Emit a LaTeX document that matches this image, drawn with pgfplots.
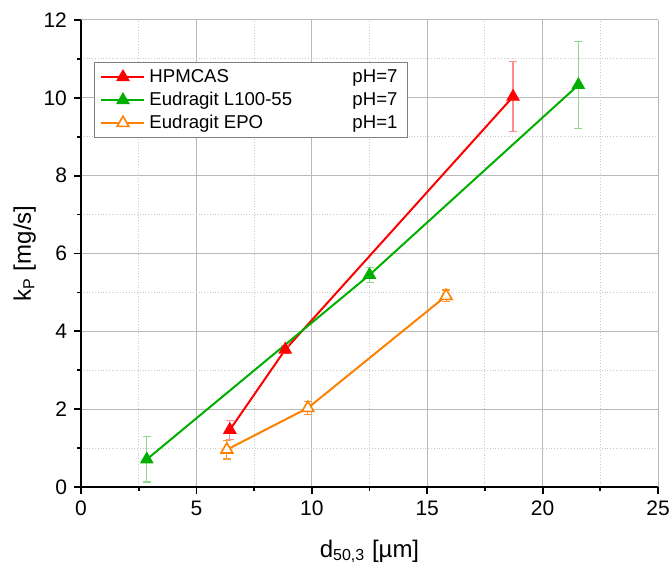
\documentclass[border=0pt]{standalone}
\usepackage{fontspec}
\setmainfont{Liberation Sans}
\usepackage{pgfplots}
\pgfplotsset{compat=1.18}

\definecolor{cred}{RGB}{255,0,0}
\definecolor{cgreen}{RGB}{0,175,0}
\definecolor{corange}{RGB}{255,128,0}
\definecolor{gridmaj}{RGB}{185,185,185}
\definecolor{gridmin}{RGB}{200,200,200}

\begin{document}
\begin{tikzpicture}
\begin{axis}[
  name=ax,
  scale only axis,
  width=288.5pt, height=233.5pt,
  xmin=0, xmax=25, ymin=0, ymax=12,
  xtick={0,5,...,25}, ytick={0,2,...,12},
  minor x tick num=1, minor y tick num=1,
  axis x line*=bottom, axis y line*=left,
  axis line style={-, line width=0.9pt},
  tick align=outside,
  major tick length=3.5pt, minor tick length=2pt,
  every tick/.style={black, line width=0.9pt},
  grid=both,
  major grid style={gridmaj, line width=0.5pt},
  minor grid style={gridmin, densely dotted, line width=0.5pt},
  /pgf/number format/assume math mode=true,
  tick label style={font=\fontsize{10.5}{12}\selectfont},
  label style={font=\fontsize{12}{14}\selectfont},
  xlabel={d\textsubscript{50,3} [µm]},
  ylabel={k\textsubscript{P} [mg/s]},
  xlabel style={yshift=-5pt},
  ylabel style={yshift=-3pt},
  legend cell align=left,
  legend style={at={(rel axis cs:0.0225,0.91)}, anchor=north west,
    draw=gray, fill=white, line width=0.5pt,
    font=\fontsize{9.3}{11}\selectfont,
    row sep=0pt, inner xsep=3pt, inner ysep=1.5pt,
    nodes={text height=7pt, text depth=2pt, inner ysep=1.25pt}},
  legend image code/.code={
    \draw[mark repeat=2, mark phase=2, line width=1pt]
      plot coordinates {(0pt,0pt) (10.75pt,0pt) (21.5pt,0pt)};},
]
\addplot+[cred, line width=1pt, mark=triangle*, mark size=3.4pt,
  mark options={solid, fill=cred, line width=0.6pt},
  error bars/.cd, y dir=both, y explicit,
  error bar style={color=cred!45, line width=0.6pt},
  error mark options={rotate=90, mark size=2pt, color=cred!45, line width=0.6pt}]
  coordinates {
  (6.45,1.47) +- (0,0.24)
  (8.85,3.53) +- (0,0.10)
  (18.72,10.03) +- (0,0.90)
};
\addlegendentry{\makebox[101.5pt][l]{HPMCAS}pH=7}
\addplot+[cgreen, line width=1pt, mark=triangle*, mark size=3.4pt,
  mark options={solid, fill=cgreen, line width=0.6pt},
  error bars/.cd, y dir=both, y explicit,
  error bar style={color=cgreen!45, line width=0.6pt},
  error mark options={rotate=90, mark size=2pt, color=cgreen!45, line width=0.6pt}]
  coordinates {
  (2.85,0.71) +- (0,0.58)
  (12.5,5.45) +- (0,0.20)
  (21.55,10.33) +- (0,1.11)
};
\addlegendentry{\makebox[101.5pt][l]{Eudragit L100-55}pH=7}
\addplot+[corange, line width=1pt, mark=triangle*, mark size=3.4pt,
  mark options={solid, fill=white, draw=corange, line width=0.8pt},
  error bars/.cd, y dir=both, y explicit,
  error bar style={color=corange!80, line width=0.6pt},
  error mark options={rotate=90, mark size=2pt, color=corange!80, line width=0.6pt}]
  coordinates {
  (6.32,0.96) +- (0,0.24)
  (9.83,2.03) +- (0,0.17)
  (15.82,4.91) +- (0,0.15)
};
\addlegendentry{\makebox[101.5pt][l]{Eudragit EPO}pH=1}
\end{axis}
\pgfresetboundingbox
\path ([xshift=-40.5pt, yshift=-40pt]ax.south west) rectangle ([xshift=6.5pt, yshift=10pt]ax.north east);
\end{tikzpicture}
\end{document}
